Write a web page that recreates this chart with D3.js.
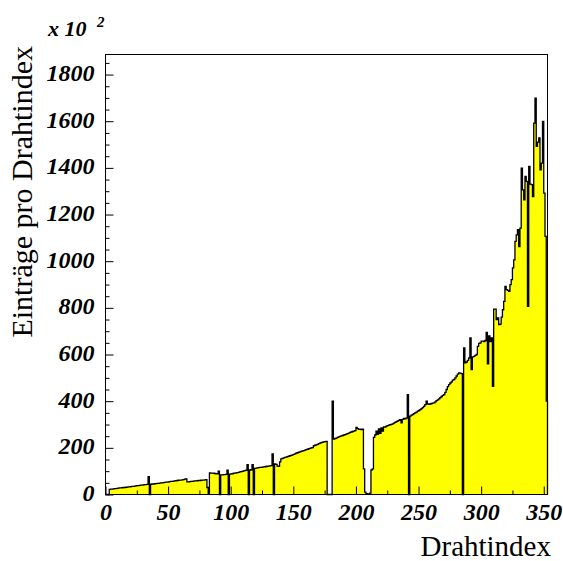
<!DOCTYPE html>
<html>
<head>
<meta charset="utf-8">
<script src="https://cdn.jsdelivr.net/npm/d3@7"></script>
<style>
  html, body { margin: 0; padding: 0; background: #ffffff; }
  svg { display: block; }
</style>
</head>
<body>
<svg id="chart" width="563" height="561"></svg>
<script>
// Entries per wire (in units of 10^2), one value per wire index 0..352
const entries = [
  0, 0, 0,
  22, 23, 23, 24, 25, 25, 26, 27, 28, 28, 29, 30, 30, 31, 32, 33, 33, 34, 35, 35, 36, 37, 38, 38, 39, 40, 40, 41, 42, 42, 43,
  76, 0,
  44, 45, 45, 46, 47, 48, 48, 49, 50, 50, 51, 52, 53, 53, 54, 55, 56, 56, 57, 58, 59, 60, 61, 62, 62, 63, 64, 66, 67,
  54, 54, 55, 56, 56, 57, 58, 58, 59, 60, 60, 61, 62, 62, 63, 64,
  30, 5,
  93, 92, 92, 91, 90, 89, 88,
  100, 0,
  84, 84, 85, 85, 86,
  104, 0,
  87, 88, 89, 91, 92, 93, 94, 95, 97, 98, 99, 101, 102, 104,
  128, 0,
  105, 106,
  128, 0,
  112, 113, 114, 115, 116, 116, 117, 118, 119, 120, 121, 122, 123, 124,
  174, 0,
  131, 129, 122, 121, 140,
  153, 155, 157, 159, 160, 162, 164, 166, 168, 170, 172, 174, 177, 179, 181, 183, 185, 187, 188, 190,
  192, 194, 196, 198, 200, 201, 209, 211, 213, 215, 218, 220, 222, 224, 226, 227, 228,
  0, 0, 0, 0,
  400,
  238, 240, 242, 245, 247, 249, 251, 253, 255, 257, 259, 261, 263, 266, 268, 270, 272, 274, 288, 282,
  279, 280, 278, 280,
  110, 10, 4, 3, 3, 6, 105, 110, 245,
  255, 272, 258, 281, 262, 286, 272, 290, 289, 293, 295, 297, 299, 301, 303, 306, 309, 312, 315, 318,
  321, 307, 322, 326, 324, 327,
  428, 0,
  336, 340, 343, 347, 350, 353, 357, 360, 364, 368, 372, 378, 385, 400, 388, 386, 388, 390, 392, 393,
  397, 402, 406, 410, 415, 420, 425, 428, 438, 450, 462, 471, 478, 483, 490, 493, 500, 508, 516, 521,
  520, 518,
  0, 628,
  564, 568, 575, 585,
  671, 535,
  590, 592, 596, 600, 635, 648, 650, 657, 657, 655, 660,
  695, 560, 680, 655, 671, 464, 795, 795, 750, 757, 728, 730, 760, 792, 828, 892, 878, 875, 871, 900,
  921, 971, 1006, 1085, 1113, 1135, 1063, 1142, 1399, 1306, 1263, 1363, 1342, 806, 1406, 1330, 1328, 1277,
  1592, 1699, 1492, 1510, 1528, 1392, 1420, 1599, 1292, 1106, 400
];

const xMajorTicks = [0, 50, 100, 150, 200, 250, 300, 350];
const xMinorTicks = [25, 75, 125, 175, 225, 275, 325];
const yMajorTicks = [0, 200, 400, 600, 800, 1000, 1200, 1400, 1600, 1800];
const yMinorTicks = [50, 100, 150, 250, 300, 350, 450, 500, 550, 650, 700, 750, 850, 900, 950,
                     1050, 1100, 1150, 1250, 1300, 1350, 1450, 1500, 1550, 1650, 1700, 1750, 1850];
const yMax = 1886;

const xTitle = "Drahtindex";
const yTitle = "Einträge pro Drahtindex";
const scaleBase = "x 10";
const scaleExponent = "2";

const labelFont = "'Liberation Serif', 'Times New Roman', Times, serif";

const svg = d3.select("#chart");
svg.append("rect").attr("width", 563).attr("height", 561).attr("fill", "#ffffff");

const frame = { left: 105.5, right: 547.5, top: 54.5, bottom: 494.5 };

const x = d3.scaleLinear().domain([0, entries.length]).range([frame.left, frame.right]);
const y = d3.scaleLinear().domain([0, yMax]).range([frame.bottom, frame.top]);

// Histogram as a step curve: each bin spans [i, i+1]
const steps = entries.map((v, i) => [i, v]);
steps.push([entries.length, entries[entries.length - 1]]);

const area = d3.area()
  .curve(d3.curveStepAfter)
  .x(d => x(d[0]))
  .y0(y(0))
  .y1(d => y(d[1]));

svg.append("path")
  .attr("d", area(steps))
  .attr("fill", "#ffff00")
  .attr("stroke", "none");

const outline = d3.line()
  .curve(d3.curveStepAfter)
  .x(d => x(d[0]))
  .y(d => y(d[1]));

svg.append("path")
  .attr("d", outline([[0, 0], ...steps, [entries.length, 0]]))
  .attr("fill", "none")
  .attr("stroke", "#000000")
  .attr("stroke-width", 1.3);

// Axes with ticks pointing into the frame
const xAxisMajor = d3.axisBottom(x).tickValues(xMajorTicks).tickSize(-8).tickPadding(8)
  .tickFormat(d3.format("d"));
const xAxisMinor = d3.axisBottom(x).tickValues(xMinorTicks).tickSize(-4).tickFormat("");
const yAxisMajor = d3.axisLeft(y).tickValues(yMajorTicks).tickSize(-8).tickPadding(11)
  .tickFormat(d3.format("d"));
const yAxisMinor = d3.axisLeft(y).tickValues(yMinorTicks).tickSize(-4).tickFormat("");

function styleAxis(g) {
  g.select(".domain").remove();
  g.selectAll(".tick line").attr("stroke", "#000000");
  g.selectAll(".tick text")
    .attr("fill", "#000000")
    .style("font-family", labelFont)
    .style("font-size", "24px")
    .style("font-weight", "bold")
    .style("font-style", "italic");
}

svg.append("g").attr("transform", `translate(0,${frame.bottom})`).call(xAxisMinor).call(styleAxis);
svg.append("g").attr("transform", `translate(0,${frame.bottom})`).call(xAxisMajor).call(styleAxis);
svg.append("g").attr("transform", `translate(${frame.left},0)`).call(yAxisMinor).call(styleAxis);
svg.append("g").attr("transform", `translate(${frame.left},0)`).call(yAxisMajor).call(styleAxis)
  .selectAll(".tick text").attr("dy", "0.25em");

// Frame
svg.append("rect")
  .attr("x", frame.left).attr("y", frame.top)
  .attr("width", frame.right - frame.left).attr("height", frame.bottom - frame.top)
  .attr("fill", "none").attr("stroke", "#000000").attr("stroke-width", 1);

// Scale factor note above the y axis
svg.append("text")
  .attr("x", 48).attr("y", 36)
  .style("font-family", labelFont).style("font-size", "22px")
  .style("font-weight", "bold").style("font-style", "italic")
  .text(scaleBase);
svg.append("text")
  .attr("x", 97).attr("y", 27)
  .style("font-family", labelFont).style("font-size", "15px")
  .style("font-weight", "bold").style("font-style", "italic")
  .text(scaleExponent);

// Axis titles, aligned to the end of each axis
svg.append("text")
  .attr("x", 551).attr("y", 556)
  .attr("text-anchor", "end")
  .style("font-family", labelFont).style("font-size", "29px")
  .text(xTitle);

svg.append("text")
  .attr("transform", "translate(32,46) rotate(-90)")
  .attr("text-anchor", "end")
  .style("font-family", labelFont).style("font-size", "30px")
  .text(yTitle);
</script>
</body>
</html>
